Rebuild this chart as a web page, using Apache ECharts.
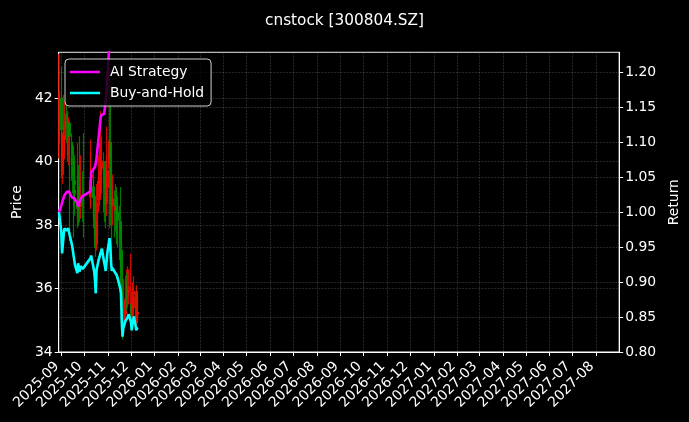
<!DOCTYPE html>
<html><head><meta charset="utf-8">
<script src="https://cdn.jsdelivr.net/npm/echarts@6/dist/echarts.min.js"></script>
<style>html,body{margin:0;padding:0;background:#000;}#c{width:689px;height:422px;}</style>
</head><body><div id="c"></div>
<script>
const dates = ['2025-08-29',
 '2025-09-01','2025-09-02','2025-09-03','2025-09-04','2025-09-05',
 '2025-09-08','2025-09-09','2025-09-10','2025-09-11','2025-09-12',
 '2025-09-15','2025-09-16','2025-09-17','2025-09-18','2025-09-19',
 '2025-09-22','2025-09-23','2025-09-24','2025-09-25','2025-09-26',
 '2025-09-29','2025-09-30','2025-10-09','2025-10-10',
 '2025-10-13','2025-10-14','2025-10-15','2025-10-16','2025-10-17',
 '2025-10-20','2025-10-21','2025-10-22','2025-10-23','2025-10-24',
 '2025-10-27','2025-10-28','2025-10-29','2025-10-30','2025-10-31',
 '2025-11-03','2025-11-04','2025-11-05','2025-11-06','2025-11-07',
 '2025-11-10','2025-11-11','2025-11-12','2025-11-13','2025-11-14',
 '2025-11-17','2025-11-18','2025-11-19','2025-11-20','2025-11-21',
 '2025-11-24','2025-11-25','2025-11-26','2025-11-27','2025-11-28',
 '2025-12-01','2025-12-02','2025-12-03','2025-12-04','2025-12-05',
 '2025-12-08','2025-12-09','2025-12-10'];
const opens = [40.60,42.00,40.90,39.60,40.10,40.70,41.50,41.10,40.80,41.00,
 41.20,40.60,40.10,39.80,39.40,39.10,38.80,38.50,39.20,38.70,
 38.60,38.90,38.70,38.90,39.50,39.20,38.90,38.60,38.10,37.40,
 38.80,39.30,39.60,39.70,39.80,40.00,39.10,38.90,38.70,39.20,
 39.80,40.60,40.10,39.10,38.60,38.80,38.50,38.60,38.40,38.30,
 38.10,37.60,37.20,35.60,34.80,35.20,35.70,35.80,35.80,35.90,
 35.30,35.50,35.10,35.40,35.80,35.90,35.10,35.20];
const closes = [42.20,41.02,39.71,40.26,40.81,41.23,41.10,41.06,41.23,41.19,
 40.81,40.22,39.92,39.58,39.29,38.99,38.53,39.12,38.82,38.61,
 38.95,38.78,38.70,39.41,39.58,38.87,38.61,38.11,37.30,38.70,
 39.37,39.50,39.71,39.84,40.01,39.16,38.95,38.66,39.16,39.71,
 40.64,40.13,39.16,38.66,38.82,38.57,38.57,38.44,38.32,38.15,
 37.60,37.30,35.62,34.69,35.19,35.66,35.74,35.79,35.91,36.04,
 35.57,35.07,35.45,35.74,35.91,35.07,35.19,35.24];
const lows = [40.10,40.20,39.50,39.30,39.90,40.30,40.60,40.00,40.20,39.90,
 37.50,39.40,39.00,37.60,38.60,38.30,37.90,38.20,38.00,38.10,
 38.20,38.10,37.60,38.50,38.60,38.20,37.90,37.60,37.00,37.20,
 38.40,38.60,38.90,38.80,39.00,38.40,38.10,37.90,38.30,38.80,
 37.90,39.20,38.00,36.80,38.00,37.60,37.80,37.70,37.40,37.30,
 36.90,36.50,35.20,34.40,34.60,35.00,35.20,35.30,35.40,35.50,
 35.20,34.90,34.90,35.20,35.40,34.90,34.80,34.90];
const highs = [43.40,43.00,41.60,40.90,42.10,41.90,42.00,41.60,41.50,41.40,
 41.30,40.90,40.50,40.50,40.00,40.20,39.60,40.60,39.90,40.80,
 40.20,39.70,40.90,40.30,40.70,39.80,39.40,39.00,38.60,39.30,
 40.20,40.60,41.60,40.40,40.80,40.30,39.80,39.60,40.20,41.10,
 43.00,41.80,40.50,39.40,39.60,39.10,39.30,39.00,39.20,38.90,
 38.60,39.20,37.50,36.00,36.30,36.40,36.60,36.50,36.70,36.60,
 37.10,35.90,36.00,36.20,36.40,36.10,36.10,35.70];
const aiStrategy = [1.000,
 1.010,1.014,1.017,1.021,1.024,
 1.029,1.030,1.031,1.030,1.027,
 1.021,1.020,1.020,1.020,1.019,
 1.013,1.008,1.013,1.015,1.019,
 1.023,1.024,1.030,1.057,
 1.062,1.063,1.065,1.070,1.077,
 1.110,1.120,1.132,1.139,1.140,
 1.141,1.141,1.141,1.168,1.189,
 1.245];
const buyHold = [1.000,0.972,0.941,0.954,0.967,0.977,0.974,0.973,0.977,0.976,
 0.967,0.953,0.946,0.938,0.931,0.924,0.913,0.927,0.920,0.915,
 0.923,0.919,0.917,0.934,0.938,0.921,0.915,0.903,0.884,0.917,
 0.933,0.936,0.941,0.944,0.948,0.928,0.923,0.916,0.928,0.941,
 0.963,0.951,0.928,0.916,0.920,0.914,0.914,0.911,0.908,0.904,
 0.891,0.884,0.844,0.822,0.834,0.845,0.847,0.848,0.851,0.854,
 0.843,0.831,0.840,0.847,0.851,0.831,0.834,0.835];
const monthTicks = ['2025-09','2025-10','2025-11','2025-12','2026-01','2026-02','2026-03','2026-04',
 '2026-05','2026-06','2026-07','2026-08','2026-09','2026-10','2026-11','2026-12',
 '2027-01','2027-02','2027-03','2027-04','2027-05','2027-06','2027-07','2027-08'];
const priceTicksInterval = 2;
const returnTicksInterval = 0.05;

const FONT = 'DejaVu Sans';
const toTs = s => new Date(s.length === 7 ? s + '-01T00:00:00' : (s.length === 10 ? s + 'T00:00:00' : s)).getTime();
const monthTs = monthTicks.map(toTs);
const labelOf = {};
monthTicks.forEach((m, i) => { labelOf[monthTs[i]] = m; });
const candleData = dates.map((d, i) => [toTs(d), opens[i], closes[i], lows[i], highs[i]]);
const aiData = aiStrategy.map((v, i) => [toTs(dates[i]), v]);
const bhData = buyHold.map((v, i) => [toTs(dates[i]), v]);
const gridLine = { show: true, lineStyle: { color: 'rgba(150,150,150,0.45)', width: 0.6, type: [2, 1.2] } };
const UP = 'rgba(240,10,0,0.85)';
const DOWN = 'rgba(0,140,0,0.85)';

const chart = echarts.init(document.getElementById('c'), null, { renderer: 'canvas' });
chart.setOption({
  backgroundColor: '#000',
  animation: false,
  title: { text: 'cnstock [300804.SZ]', left: 'center', top: 9,
    textStyle: { color: '#fff', fontSize: 15.3, fontWeight: 'normal', fontFamily: FONT } },
  legend: {
    data: ['AI Strategy', 'Buy-and-Hold'], orient: 'vertical', left: 65, top: 59,
    icon: 'rect', itemWidth: 30, itemHeight: 2.5, itemGap: 5,
    padding: [5, 7, 5, 5],
    backgroundColor: 'rgba(0,0,0,0.8)', borderColor: '#d0d0d0', borderWidth: 1, borderRadius: 4,
    textStyle: { color: '#fff', fontSize: 13.9, fontFamily: FONT, lineHeight: 16, padding: [0, 0, 0, 5] }
  },
  grid: { left: 58.7, right: 68.3, top: 52.3, bottom: 70, show: true, borderColor: '#fff', borderWidth: 1, backgroundColor: 'transparent' },
  xAxis: {
    type: 'value', min: toTs('2025-08-28T14:00:00'), max: toTs('2027-08-31T00:00:00'),
    axisLine: { show: true, onZero: false, lineStyle: { color: '#fff', width: 1 } },
    axisTick: { show: true, length: 4, lineStyle: { color: '#fff' }, customValues: monthTs },
    axisLabel: { customValues: monthTs, rotate: 45, color: '#fff', fontSize: 13.9, fontFamily: FONT, margin: 8,
      padding: [0, 6, 0, 0], formatter: v => labelOf[v] || '' },
    splitLine: gridLine
  },
  yAxis: [
    { type: 'value', position: 'left', min: 34, max: 43.45, interval: priceTicksInterval,
      name: 'Price', nameLocation: 'middle', nameGap: 34, nameRotate: 90,
      nameTextStyle: { color: '#fff', fontSize: 13.9, fontFamily: FONT },
      axisLine: { show: true, lineStyle: { color: '#fff' } },
      axisTick: { show: true, length: 4, lineStyle: { color: '#fff' } },
      axisLabel: { color: '#fff', fontSize: 13.9, fontFamily: FONT, margin: 6, showMaxLabel: false,
        formatter: v => String(Math.round(v)) },
      splitLine: gridLine },
    { type: 'value', position: 'right', min: 0.8, max: 1.229, interval: returnTicksInterval,
      name: 'Return', nameLocation: 'middle', nameGap: 46, nameRotate: 90,
      nameTextStyle: { color: '#fff', fontSize: 13.9, fontFamily: FONT },
      axisLine: { show: true, lineStyle: { color: '#fff' } },
      axisTick: { show: true, length: 4, lineStyle: { color: '#fff' } },
      axisLabel: { color: '#fff', fontSize: 13.9, fontFamily: FONT, margin: 6, showMaxLabel: false,
        formatter: v => v.toFixed(2) },
      splitLine: gridLine }
  ],
  series: [
    { name: 'Price', type: 'candlestick', data: candleData, encode: { x: 0, y: [1, 2, 3, 4] },
      xAxisIndex: 0, yAxisIndex: 0, barWidth: 2.2,
      itemStyle: { color: UP, color0: DOWN, borderColor: UP, borderColor0: DOWN, borderWidth: 1.2 } },
    { name: 'AI Strategy', type: 'line', data: aiData, yAxisIndex: 1, showSymbol: false, symbol: 'none',
      color: '#ff00ff', lineStyle: { color: '#ff00ff', width: 2.6 }, z: 3 },
    { name: 'Buy-and-Hold', type: 'line', data: bhData, yAxisIndex: 1, showSymbol: false, symbol: 'none',
      color: '#00ffff', lineStyle: { color: '#00ffff', width: 2.6 }, z: 3 }
  ]
});
</script></body></html>
